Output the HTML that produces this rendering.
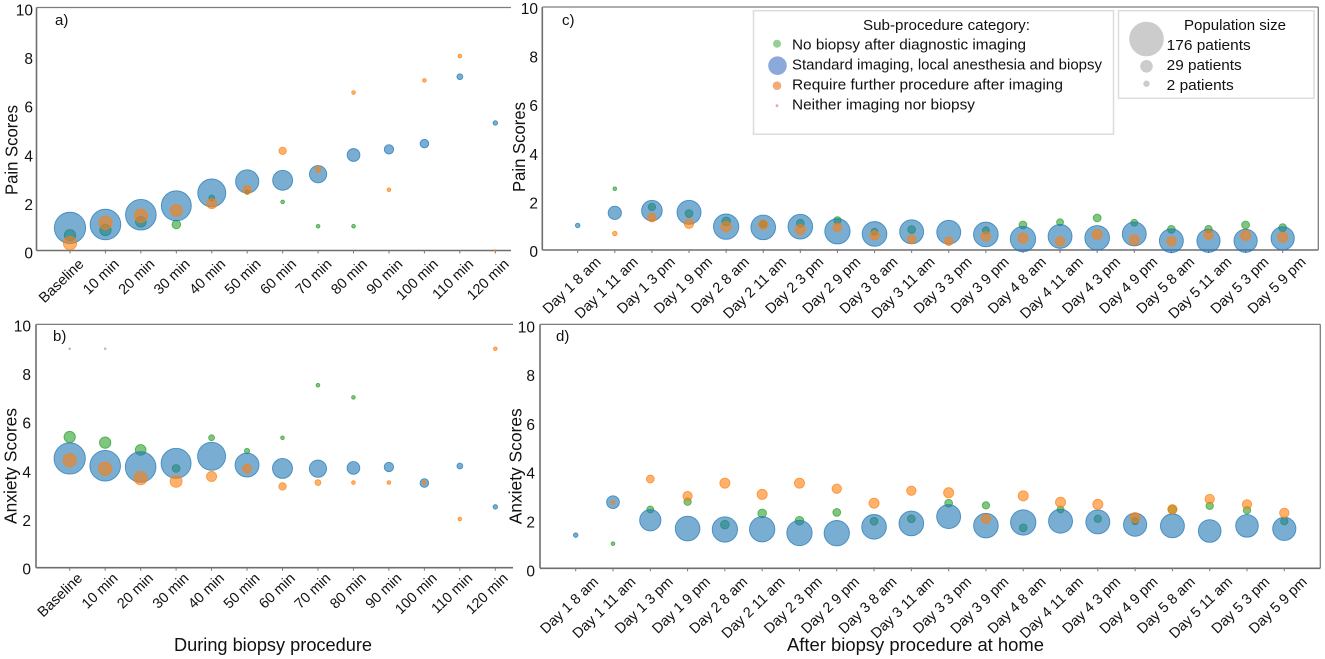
<!DOCTYPE html>
<html lang="en">
<head>
<meta charset="utf-8">
<title>Pain and anxiety scores during and after biopsy</title>
<style>
  html, body { margin: 0; padding: 0; background: #fff; }
  svg { display: block; font-family: "Liberation Sans", sans-serif; fill: #111; }
</style>
</head>
<body>
<svg id="chart" xmlns="http://www.w3.org/2000/svg" width="1325" height="659" viewBox="0 0 1325 659">
  <g id="panels"></g>

  <g>
    <rect x="753.5" y="10.7" width="360" height="123.5" fill="#fff" stroke="#dcdcdc" stroke-width="1.5"/>
    <text x="863" y="30" font-size="15" textLength="167" lengthAdjust="spacingAndGlyphs">Sub-procedure category:</text>
    <circle cx="777" cy="43.7" r="4" fill="#2ca02c" fill-opacity="0.5"/>
    <text x="792" y="49.5" font-size="15" textLength="234" lengthAdjust="spacingAndGlyphs">No biopsy after diagnostic imaging</text>
    <circle cx="777.5" cy="65.7" r="9.3" fill="#3f6fc4" fill-opacity="0.6"/>
    <text x="792" y="69.5" font-size="15" textLength="310" lengthAdjust="spacingAndGlyphs">Standard imaging, local anesthesia and biopsy</text>
    <circle cx="777" cy="85.7" r="4.3" fill="#ed7d31" fill-opacity="0.65"/>
    <text x="792" y="89.5" font-size="15" textLength="271" lengthAdjust="spacingAndGlyphs">Require further procedure after imaging</text>
    <circle cx="777" cy="105.7" r="1.4" fill="#f08a9a" fill-opacity="0.8"/>
    <text x="792" y="109.5" font-size="15" textLength="183" lengthAdjust="spacingAndGlyphs">Neither imaging nor biopsy</text>
  </g>

  <g>
    <rect x="1118.5" y="10.7" width="195.5" height="87.6" fill="#fff" stroke="#dcdcdc" stroke-width="1.5"/>
    <text x="1184" y="30" font-size="15" textLength="102" lengthAdjust="spacingAndGlyphs">Population size</text>
    <circle cx="1146.5" cy="39" r="17.3" fill="#c9c9c9" fill-opacity="0.95"/>
    <text x="1166.7" y="50" font-size="15" textLength="84" lengthAdjust="spacingAndGlyphs">176 patients</text>
    <circle cx="1146.5" cy="66.3" r="6.3" fill="#c9c9c9" fill-opacity="0.95"/>
    <text x="1166.7" y="70" font-size="15" textLength="75" lengthAdjust="spacingAndGlyphs">29 patients</text>
    <circle cx="1146.5" cy="83.7" r="3.2" fill="#c9c9c9" fill-opacity="0.95"/>
    <text x="1166.7" y="90" font-size="15" textLength="67" lengthAdjust="spacingAndGlyphs">2 patients</text>
  </g>
</svg>

<script>
// ---------- categories and ticks ----------
const procedureCategories = ["Baseline","10 min","20 min","30 min","40 min","50 min","60 min","70 min","80 min","90 min","100 min","110 min","120 min"];
const homeCategories = ["Day 1 8 am","Day 1 11 am","Day 1 3 pm","Day 1 9 pm","Day 2 8 am","Day 2 11 am","Day 2 3 pm","Day 2 9 pm","Day 3 8 am","Day 3 11 am","Day 3 3 pm","Day 3 9 pm","Day 4 8 am","Day 4 11 am","Day 4 3 pm","Day 4 9 pm","Day 5 8 am","Day 5 11 am","Day 5 3 pm","Day 5 9 pm"];
const yTickLabels = [0,2,4,6,8,10];

// ---------- panel a: pain during biopsy ----------
const aStandardScores = [0.93,1.07,1.47,1.84,2.37,2.84,2.89,3.14,3.93,4.16,4.40,7.15,5.25];
const aStandardPatients = [145,139,139,133,116,80,59,44,24,13,11,5,3];
const aNoBiopsyScores = [0.63,0.84,1.18,1.07,2.16,2.40,2.00,1.00,1.00,null,null,null,null];
const aNoBiopsyPatients = [19,19,17,11,5,3,2,2,2,0,0,0,0];
const aFurtherScores = [0.30,1.14,1.43,1.65,1.93,2.50,4.10,3.33,6.50,2.50,7.00,8.00,0.00];
const aFurtherPatients = [26,26,26,21,15,11,8,5,2,2,2,2,1];
const aNeitherScores = [null,0,null,null,null,null,null,null,null,null,null,null,null];

// ---------- panel b: anxiety during biopsy ----------
const bStandardScores = [4.49,4.19,4.14,4.29,4.58,4.22,4.08,4.07,4.10,4.14,3.48,4.18,2.50];
const bStandardPatients = [145,139,139,133,116,85,59,44,24,13,11,5,3];
const bNoBiopsyScores = [5.37,5.14,4.84,4.08,5.34,4.80,5.34,7.50,7.00,null,null,null,null];
const bNoBiopsyPatients = [19,19,17,9,5,4,2,2,2,0,0,0,0];
const bFurtherScores = [4.42,4.07,3.68,3.55,3.75,4.07,3.34,3.50,3.50,3.50,3.50,2.00,9.00];
const bFurtherPatients = [26,26,26,21,15,11,8,5,2,2,2,2,2];
const bNeitherScores = [9,9,null,null,null,null,null,null,null,null,null,null,null];

// ---------- panel c: pain at home ----------
const cStandardScores = [1.01,1.53,1.62,1.55,0.96,0.93,0.96,0.77,0.66,0.75,0.73,0.64,0.45,0.56,0.50,0.66,0.38,0.38,0.38,0.48];
const cStandardPatients = [3,26,63,85,95,90,90,95,90,85,85,90,95,85,90,85,85,80,80,80];
const cNoBiopsyScores = [null,2.52,1.77,1.50,1.18,1.07,1.10,1.22,0.75,0.84,null,0.81,1.03,1.14,1.32,1.12,0.85,0.86,1.03,0.92];
const cNoBiopsyPatients = [0,2,8,9,11,8,9,8,7,9,0,7,9,7,9,7,9,8,9,9];
const cFurtherScores = [null,0.68,1.33,1.08,0.96,1.04,0.84,0.93,0.60,0.44,0.36,0.56,0.49,0.36,0.64,0.41,0.36,0.63,0.60,0.53];
const cFurtherPatients = [0,3,11,13,15,13,15,11,13,11,11,13,15,13,15,15,13,13,15,15];
const cNeitherScores = [null,null,null,null,0,0,0,0,null,null,null,null,0,0,0,0,0,0,0,0];

// ---------- panel d: anxiety at home ----------
const dStandardScores = [1.36,2.71,1.97,1.63,1.59,1.60,1.45,1.44,1.70,1.84,2.12,1.75,1.88,1.93,1.90,1.79,1.74,1.53,1.74,1.62];
const dStandardPatients = [3,24,67,90,95,95,95,95,90,90,85,90,95,85,85,80,85,76,76,80];
const dNoBiopsyScores = [null,1.01,2.41,2.73,1.79,2.25,1.95,2.29,1.93,2.03,2.67,2.58,1.66,2.41,2.03,1.93,2.40,2.56,2.38,1.93];
const dNoBiopsyPatients = [0,2,7,8,11,11,11,9,9,9,9,8,9,7,8,7,11,8,8,8];
const dFurtherScores = [null,2.70,3.66,2.96,3.49,3.03,3.49,3.26,2.67,3.18,3.10,2.03,2.97,2.71,2.62,2.08,2.42,2.84,2.62,2.27];
const dFurtherPatients = [0,2,9,13,15,15,15,13,15,13,15,13,15,15,15,15,13,13,13,13];
const dNeitherScores = [null,null,null,null,null,null,null,null,0,0,0,null,null,null,0,0,null,null,null,null];

// ---------- layout ----------
const SVG_NS = "http://www.w3.org/2000/svg";
const panelsLayer = document.getElementById("panels");
const RADIUS_PER_ROOT_PATIENT = 1.3;

const panelDefs = [
  { id:"a", label:"a)", labelX:55, labelY:25, left:36.5, right:511, top:7.5, bottom:250.5, firstX:70, lastX:495.3,
    rightSpine:false, tickEnd:33, tickDy:8, yTitle:"Pain Scores", yTitleX:17.5, yTitleY:150, yTitleLen:90,
    xEndDx:14.5, xEndDy:14.5, cats:procedureCategories,
    std:aStandardScores, stdN:aStandardPatients, nob:aNoBiopsyScores, nobN:aNoBiopsyPatients, fur:aFurtherScores, furN:aFurtherPatients, nei:aNeitherScores },
  { id:"b", label:"b)", labelX:53, labelY:341, left:36, right:513, top:324.4, bottom:567.7, firstX:69.7, lastX:495.3,
    rightSpine:false, tickEnd:31, tickDy:7, yTitle:"Anxiety Scores", yTitleX:16.7, yTitleY:466, yTitleLen:116,
    xEndDx:13.5, xEndDy:11.5, cats:procedureCategories,
    std:bStandardScores, stdN:bStandardPatients, nob:bNoBiopsyScores, nobN:bNoBiopsyPatients, fur:bFurtherScores, furN:bFurtherPatients, nei:bNeitherScores },
  { id:"c", label:"c)", labelX:562, labelY:25, left:542.3, right:1318.3, top:7, bottom:250, firstX:577.7, lastX:1282.7,
    rightSpine:true, tickEnd:538, tickDy:7, yTitle:"Pain Scores", yTitleX:525, yTitleY:147, yTitleLen:90,
    xEndDx:24, xEndDy:13, cats:homeCategories,
    std:cStandardScores, stdN:cStandardPatients, nob:cNoBiopsyScores, nobN:cNoBiopsyPatients, fur:cFurtherScores, furN:cFurtherPatients, nei:cNeitherScores },
  { id:"d", label:"d)", labelX:556, labelY:341, left:540, right:1320.3, top:324.4, bottom:568.3, firstX:575.7, lastX:1284.3,
    rightSpine:true, tickEnd:535, tickDy:8, yTitle:"Anxiety Scores", yTitleX:521.7, yTitleY:466.3, yTitleLen:116,
    xEndDx:23.5, xEndDy:14.5, cats:homeCategories,
    std:dStandardScores, stdN:dStandardPatients, nob:dNoBiopsyScores, nobN:dNoBiopsyPatients, fur:dFurtherScores, furN:dFurtherPatients, nei:dNeitherScores }
];

function xScale(p, i) { return p.firstX + (p.lastX - p.firstX) * i / (p.cats.length - 1); }
function yScale(p, v) { return p.bottom - (p.bottom - p.top) * v / 10; }
function rScale(n) { return RADIUS_PER_ROOT_PATIENT * Math.sqrt(n); }

function make(tag, parent, attrs, text) {
  const el = document.createElementNS(SVG_NS, tag);
  for (const k in attrs) el.setAttribute(k, attrs[k]);
  if (text !== undefined) el.textContent = text;
  parent.appendChild(el);
  return el;
}

function drawSeries(group, p, scores, patients, fill, stroke, opacity, seriesName) {
  scores.forEach(function (v, i) {
    if (v === null) return;
    const n = patients ? patients[i] : 1;
    const c = make("circle", group, {
      cx: xScale(p, i), cy: yScale(p, v), r: rScale(n),
      fill: fill, "fill-opacity": opacity, stroke: stroke, "stroke-opacity": 0.75, "stroke-width": n > 1 ? 0.9 : 0
    });
    
    
  });
}

panelDefs.forEach(function (p) {
  const g = make("g", panelsLayer, {});
  
  

  // axes
  const spineColor = "#6e6e6e";
  const leftSpine = make("line", g, { x1:p.left, x2:p.left, y1:p.top, y2:p.bottom, stroke:spineColor, "stroke-width":1.6 });
  
  
  const bottomSpine = make("line", g, { x1:p.left, x2:p.right, y1:p.bottom, y2:p.bottom, stroke:spineColor, "stroke-width":1.6 });
  
  
  const topSpine = make("line", g, { x1:p.left, x2:p.right, y1:p.top, y2:p.top, stroke:"#7c7c7c", "stroke-width":1.3 });
  
  
  if (p.rightSpine) {
    const rightSpine = make("line", g, { x1:p.right, x2:p.right, y1:p.top, y2:p.bottom, stroke:"#7c7c7c", "stroke-width":1.3 });
    
    
  }

  // y ticks
  yTickLabels.forEach(function (t) {
    const y = yScale(p, t);
    const tl = make("text", g, { x:p.tickEnd, y:y + p.tickDy, "font-size":15.5, "text-anchor":"end" }, String(t));
    
    
  });

  // x ticks
  p.cats.forEach(function (c, i) {
    const x = xScale(p, i);
    const tick = make("line", g, { x1:x, x2:x, y1:p.bottom, y2:p.bottom + 3, stroke:"#777", "stroke-width":1 });
    
    
    const ex = x + p.xEndDx, ey = p.bottom + p.xEndDy;
    const tl = make("text", g, { x:ex, y:ey, "font-size":14.5, "text-anchor":"end", transform:"rotate(-44 " + ex + " " + ey + ")" }, c);
    
    
  });

  // axis title and panel letter
  const yt = make("text", g, { x:p.yTitleX, y:p.yTitleY, "font-size":17.5, "text-anchor":"middle",
    transform:"rotate(-90 " + p.yTitleX + " " + p.yTitleY + ")", textLength:p.yTitleLen, lengthAdjust:"spacingAndGlyphs" }, p.yTitle);
  
  
  const pl = make("text", g, { x:p.labelX, y:p.labelY, "font-size":15 }, p.label);
  
  

  // series: green under blue, orange on top
  drawSeries(g, p, p.nob, p.nobN, "#2ca02c", "#2ca02c", 0.6, "no-biopsy");
  drawSeries(g, p, p.std, p.stdN, "#1f77b4", "#1f77b4", 0.6, "standard-biopsy");
  drawSeries(g, p, p.fur, p.furN, "#ff7f0e", "#ff7f0e", 0.6, "further-procedure");
  drawSeries(g, p, p.nei, null, "#a05fc0", "#a05fc0", 0.5, "neither");
});

const bottomTitleA = make("text", panelsLayer, { x:174, y:651, "font-size":18, textLength:198, lengthAdjust:"spacingAndGlyphs" }, "During biopsy procedure");


const bottomTitleB = make("text", panelsLayer, { x:787, y:651, "font-size":18, textLength:257, lengthAdjust:"spacingAndGlyphs" }, "After biopsy procedure at home");


</script>
</body>
</html>
